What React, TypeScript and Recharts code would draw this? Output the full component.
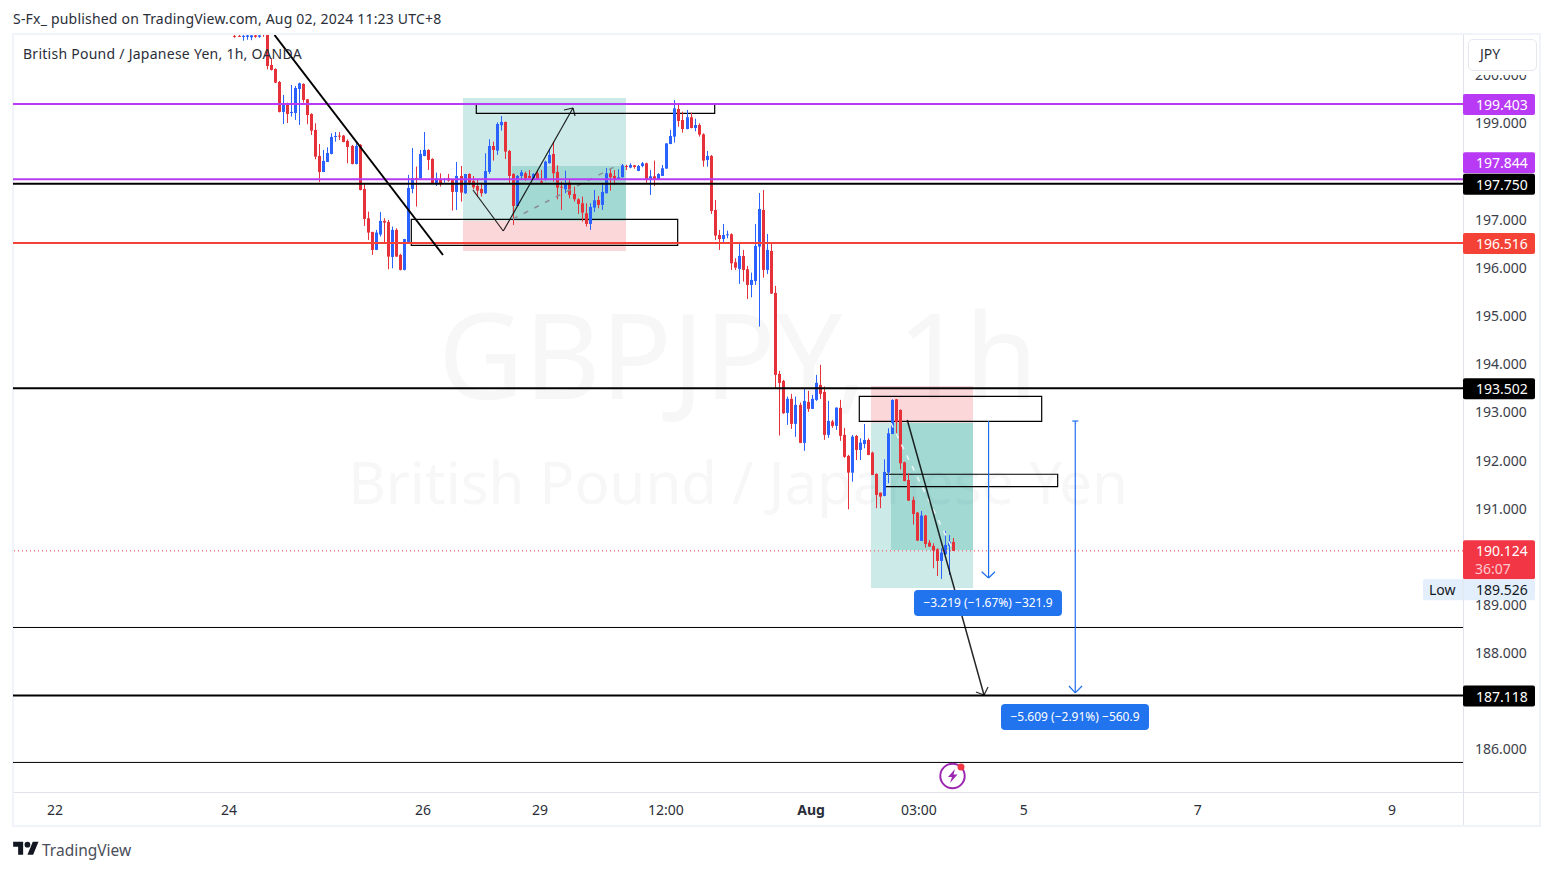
import { Bar, ComposedChart, ReferenceArea, ReferenceLine, XAxis, YAxis } from 'recharts';

const opens = [
  200.82, 200.82, 200.8, 200.8, 200.79, 200.83, 200.8, 200.86, 201.1, 200.215, 200.132, 199.862, 199.24, 199.406, 199.226, 199.219, 199.717, 199.821, 199.503, 199.198,
  198.866, 198.326, 197.994, 198.202, 198.368, 198.728, 198.748, 198.748, 198.638, 198.534, 198.16, 198.555, 197.641, 197.032, 196.749, 196.375, 196.693, 196.977, 196.956, 196.229,
  196.79, 196.271, 195.96, 196.513, 197.641, 197.87, 197.856, 198.326, 198.451, 198.264, 197.738, 197.842, 197.828, 197.863, 197.826, 197.579, 197.911, 197.551, 197.952, 197.807,
  197.703, 197.641, 197.551, 197.994, 198.533, 198.437, 198.963, 199.032, 198.43, 197.952, 197.288, 197.911, 197.966, 197.911, 197.848, 197.966, 197.8, 197.828, 198.174, 198.367,
  197.994, 197.689, 197.634, 197.772, 197.537, 197.426, 197.343, 197.136, 196.914, 197.253, 197.412, 197.309, 197.551, 197.966, 197.911, 197.841, 197.883, 198.118, 198.084, 198.132,
  198.014, 198.118, 198.174, 197.841, 197.904, 197.841, 197.911, 198.063, 198.575, 198.727, 199.302, 199.073, 198.886, 199.129, 198.907, 198.969, 198.776, 198.243, 198.326, 197.204,
  196.685, 196.602, 196.678, 196.699, 196.118, 195.98, 196.249, 195.973, 195.647, 195.73, 196.443, 197.204, 195.959, 196.353, 195.481, 193.8, 193.654, 192.99, 193.281, 192.762,
  193.156, 192.367, 193.218, 193.073, 193.26, 193.571, 193.426, 192.533, 192.81, 192.72, 193.094, 192.533, 192.097, 191.749, 192.51, 192.22, 192.344, 192.427, 192.164, 191.722,
  191.333, 191.265, 191.749, 192.552, 193.272, 193.05, 191.964, 191.597, 191.182, 190.919, 190.331, 190.857, 190.296, 190.227, 190.158, 189.915, 190.054, 190.227, 190.31,
];
const highs = [
  200.86, 200.84, 200.84, 200.85, 200.84, 200.85, 200.85, 200.9, 201.2, 200.354, 200.146, 199.883, 199.593, 199.433, 199.8, 199.779, 199.849, 199.835, 199.51, 199.212,
  199.004, 198.575, 198.451, 198.506, 198.797, 198.824, 198.824, 198.762, 198.672, 198.555, 198.589, 198.575, 197.759, 197.171, 196.749, 196.79, 197.164, 197.032, 196.998, 196.859,
  196.825, 196.292, 196.603, 197.932, 198.492, 198.105, 198.451, 198.824, 198.465, 198.278, 197.98, 197.966, 197.863, 197.953, 197.828, 198.202, 198.119, 197.953, 197.966, 197.911,
  197.828, 197.772, 198.381, 198.672, 198.623, 199.025, 199.156, 199.039, 198.45, 197.966, 197.931, 198.035, 198.001, 198.035, 197.966, 198.021, 198.035, 198.229, 198.464, 198.623,
  198.132, 197.793, 198.021, 197.828, 197.689, 197.447, 197.482, 197.343, 197.343, 197.62, 197.495, 197.758, 198.077, 198.07, 198.035, 198.049, 198.16, 198.146, 198.174, 198.139,
  198.139, 198.201, 198.187, 198.035, 198.229, 197.966, 198.139, 198.589, 198.866, 199.488, 199.419, 199.246, 199.281, 199.225, 199.101, 199.004, 198.796, 198.43, 198.347, 197.412,
  196.789, 196.914, 196.775, 196.72, 196.201, 196.54, 196.374, 196.042, 195.903, 196.914, 197.557, 197.62, 196.706, 196.512, 195.627, 193.862, 193.675, 193.329, 193.385, 193.329,
  193.205, 193.488, 193.447, 193.364, 193.779, 193.987, 193.537, 193.239, 192.845, 193.101, 193.26, 192.679, 192.118, 192.531, 192.531, 192.462, 192.76, 192.462, 192.185, 191.735,
  191.334, 192.026, 192.67, 193.272, 193.279, 193.064, 191.978, 191.735, 191.251, 190.933, 190.953, 190.87, 190.351, 190.282, 190.178, 190.178, 190.538, 190.455, 190.393,
];
const lows = [
  200.78, 200.8, 200.72, 200.74, 200.73, 200.78, 200.78, 200.8, 200.125, 200.1, 199.84, 199.23, 198.99, 199.011, 199.143, 199.074, 198.97, 199.433, 198.984, 198.762,
  198.257, 197.786, 197.99, 198.2, 198.36, 198.624, 198.658, 198.61, 198.174, 198.15, 198.15, 197.61, 196.873, 196.582, 196.271, 196.37, 196.652, 196.513, 195.973, 195.994,
  196.23, 195.95, 195.95, 196.51, 197.551, 197.274, 197.85, 198.32, 198.036, 197.75, 197.703, 197.69, 197.773, 197.793, 197.191, 197.205, 197.378, 197.537, 197.724, 197.634,
  197.482, 197.482, 197.537, 197.952, 198.229, 198.347, 198.852, 198.264, 197.758, 196.893, 197.274, 197.828, 197.814, 197.862, 197.841, 197.828, 197.77, 197.814, 198.17, 197.793,
  197.426, 197.205, 197.551, 197.447, 197.378, 197.122, 196.963, 196.859, 196.79, 197.163, 197.239, 197.205, 197.55, 197.606, 197.724, 197.828, 197.88, 198.035, 198.07, 198.063,
  198.01, 198.091, 197.772, 197.516, 197.703, 197.84, 197.91, 198.06, 198.57, 198.603, 198.935, 198.81, 198.879, 198.9, 198.838, 198.727, 198.104, 198.104, 197.122, 196.582,
  196.374, 196.512, 196.616, 195.959, 195.959, 195.668, 195.717, 195.357, 195.391, 195.647, 194.782, 195.8, 195.876, 195.46, 193.502, 192.52, 192.969, 192.741, 192.658, 192.492,
  192.36, 192.201, 193.011, 193.07, 193.239, 193.281, 192.43, 192.471, 192.679, 192.637, 192.409, 192.056, 190.988, 191.562, 192.012, 192.012, 192.254, 192.11, 191.7, 191.009,
  191.009, 191.26, 191.528, 192.55, 192.566, 191.818, 191.57, 191.16, 190.67, 190.33, 190.33, 190.192, 190.21, 189.763, 189.604, 189.542, 190.04, 189.625, 190.12,
];
const closes = [
  200.8, 200.8, 200.82, 200.83, 200.83, 200.8, 200.83, 200.84, 200.195, 200.112, 199.849, 199.24, 199.406, 199.198, 199.24, 199.738, 199.835, 199.489, 199.177, 198.852,
  198.312, 197.994, 198.222, 198.388, 198.721, 198.741, 198.728, 198.617, 198.513, 198.16, 198.534, 197.62, 197.018, 196.735, 196.375, 196.735, 196.977, 196.942, 196.236, 196.79,
  196.236, 195.96, 196.6, 197.662, 197.863, 197.849, 198.368, 198.451, 198.243, 197.759, 197.863, 197.759, 197.849, 197.814, 197.579, 197.911, 197.565, 197.95, 197.772, 197.675,
  197.606, 197.551, 198.014, 198.533, 198.45, 198.99, 199.032, 198.416, 197.911, 197.288, 197.911, 197.987, 197.862, 197.869, 197.952, 197.848, 197.772, 198.208, 198.347, 197.966,
  197.668, 197.675, 197.758, 197.516, 197.426, 197.329, 197.149, 196.914, 197.267, 197.405, 197.309, 197.578, 197.966, 197.883, 197.828, 197.883, 198.132, 198.104, 198.139, 198.097,
  198.118, 198.174, 197.828, 197.904, 197.828, 197.952, 198.07, 198.587, 198.741, 199.315, 199.052, 198.886, 199.129, 198.907, 198.969, 198.769, 198.229, 198.326, 197.184, 196.672,
  196.602, 196.685, 196.699, 196.097, 196.007, 196.249, 195.959, 195.647, 195.751, 196.457, 197.225, 195.959, 196.374, 195.468, 193.779, 193.613, 192.983, 193.281, 192.762, 193.156,
  192.367, 193.239, 193.073, 193.281, 193.613, 193.385, 192.533, 192.824, 192.72, 193.1, 192.513, 192.077, 191.749, 192.497, 192.22, 192.372, 192.427, 192.116, 191.701, 191.286,
  191.251, 191.763, 192.566, 193.258, 192.794, 191.943, 191.576, 191.168, 190.891, 190.338, 190.857, 190.268, 190.213, 190.13, 189.915, 190.088, 190.248, 190.31, 190.124,
];

const firstBar = 55;
const xDomain = [0.24, 359.51];
const yDomain = [185.116, 200.838];

const priceTicks = [186, 188, 189, 191, 192, 193, 194, 195, 196, 197, 199, 200];
const timeTickBars = [10.65, 53.76, 101.8, 130.8, 162, 198, 224.7, 250.7, 293.8, 341.9];
const timeTickLabels = ['22', '24', '26', '29', '12:00', 'Aug', '03:00', '5', '7', '9'];

const levelPrices = [199.403, 197.844, 197.75, 196.516, 193.502, 187.118];
const levelColors = ['#b83af5', '#b83af5', '#000000', '#f44336', '#000000', '#000000'];
const levelTagShift = [0, -17, 0, 0, 0, 0];
const thinLevels = [188.533, 185.73];
const lastPrice = 190.124;
const lowPrice = 189.526;

// [bar, price, bar, price]
const blackSegments = [
  [65.03, 200.838, 106.78, 196.269],
  [114.21, 197.619, 121.72, 196.767],
  [121.72, 196.767, 138.99, 199.322],
  [136.76, 199.28, 138.99, 199.322],
  [138.99, 199.322, 139.49, 199.156],
  [221.82, 192.842, 240.83, 187.131],
  [238.84, 187.193, 240.83, 187.131],
  [241.82, 187.297, 240.83, 187.131],
];
const blueSegments = [
  [241.96, 192.821, 241.96, 189.561],
  [240.25, 189.691, 241.96, 189.561],
  [243.55, 189.691, 241.96, 189.561],
  [263.44, 192.821, 263.44, 187.173],
  [262.7, 192.821, 264.2, 192.821],
  [261.89, 187.318, 263.44, 187.173],
  [265.11, 187.318, 263.44, 187.173],
];
const longDashed = [124.13, 197.017, 150.64, 198.159];
const shortDashed = [217.78, 192.78, 233.14, 190.142];

// [bar, bar, price, price]
const profitZones = [
  [111.74, 152.12, 196.98, 199.53],
  [123.88, 152.12, 196.98, 198.117],
  [212.83, 238.1, 189.353, 192.786],
  [217.78, 238.1, 190.142, 192.786],
];
const stopZones = [
  [111.74, 152.12, 196.352, 196.98],
  [212.83, 238.1, 192.786, 193.548],
];
const outlineBoxes = [
  [115.03, 174.1, 199.212, 199.411],
  [98.93, 164.93, 196.47, 197.01],
  [209.93, 255.12, 192.815, 193.334],
  [216.3, 259.08, 191.457, 191.715],
];
const measureBoxes = [
  [223.48, 260.15, 188.771, 189.311],
  [245.04, 281.71, 186.404, 186.944],
];
const measureTexts = ['−3.219 (−1.67%) −321.9', '−5.609 (−2.91%) −560.9'];

const candles = opens.map((open, i) => ({
  bar: firstBar + i,
  open,
  high: highs[i],
  low: lows[i],
  close: closes[i],
}));

const FONT = '"Noto Sans", sans-serif';
const UP = '#2962ff';
const DOWN = '#e5323a';
const TAG_LEFT = 1463;

const Candle = (props: any) => {
  const { x, y, width, height, payload } = props;
  const { open, high, low, close } = payload;
  const cx = Math.round(x + width / 2);
  const perUnit = Math.abs(height) / (high - low);
  const top = Math.min(y, y + height);
  const bodyTop = top + (high - Math.max(open, close)) * perUnit;
  const bodyH = Math.max(1, Math.abs(open - close) * perUnit);
  const color = close >= open ? UP : DOWN;
  return (
    <g>
      <rect x={cx} y={top} width={1} height={Math.abs(height)} fill={color} />
      <rect x={cx - 1} y={bodyTop} width={3} height={bodyH} fill={color} />
    </g>
  );
};

const priceTag = (price: number, color: string, shift: number) => (props: any) => {
  const y = props.viewBox.y + shift;
  return (
    <g>
      <rect x={TAG_LEFT} y={y - 10} width={72} height={21} rx={2} fill={color} />
      <text x={1476} y={y + 6} fill="#fff" fontSize={14} fontFamily={FONT}>
        {price.toFixed(3)}
      </text>
    </g>
  );
};

const lastTag = (props: any) => {
  const y = props.viewBox.y;
  return (
    <g>
      <rect x={TAG_LEFT} y={y - 10.5} width={72} height={39} rx={2} fill="#f23645" />
      <text x={1476} y={y + 5} fill="#fff" fontSize={14} fontFamily={FONT}>
        {lastPrice.toFixed(3)}
      </text>
      <text x={1475} y={y + 23} fill="#ffc9ce" fontSize={14} fontFamily={FONT}>
        36:07
      </text>
    </g>
  );
};

const lowTag = (props: any) => {
  // pushed down below the last-price tag, as the platform does
  const y = props.viewBox.y + 10;
  return (
    <g>
      <rect x={1423} y={y - 10.5} width={112} height={21} rx={2} fill="#e3effd" />
      <line x1={TAG_LEFT} x2={TAG_LEFT} y1={y - 10.5} y2={y + 10.5} stroke="#e0e3eb" />
      <text x={1429} y={y + 5} fill="#131722" fontSize={14} fontFamily={FONT}>
        Low
      </text>
      <text x={1476} y={y + 5} fill="#131722" fontSize={14} fontFamily={FONT}>
        {lowPrice.toFixed(3)}
      </text>
    </g>
  );
};

const TimeTick = (props: any) => {
  const { x, payload } = props;
  const label = timeTickLabels[timeTickBars.indexOf(payload.value)];
  return (
    <text
      x={x}
      y={815}
      textAnchor="middle"
      fill="#2a2e39"
      fontSize={14}
      fontFamily={FONT}
      fontWeight={label === 'Aug' ? 700 : 400}
    >
      {label}
    </text>
  );
};

export default function App() {
  return (
    <div style={{ position: 'absolute', left: 0, top: 0, width: 1553, height: 871, background: '#fff', overflow: 'hidden', fontFamily: FONT }}>
      <div style={{ position: 'absolute', left: 13, top: 9, fontSize: 14, lineHeight: '20px', letterSpacing: 0.2, color: '#2a2e39', whiteSpace: 'nowrap' }}>
        S-Fx_ published on TradingView.com, Aug 02, 2024 11:23 UTC+8
      </div>

      {/* frame */}
      <div style={{ position: 'absolute', left: 12, top: 33, width: 1525, height: 790, border: '2px solid #f0f3fa' }} />
      <div style={{ position: 'absolute', left: 14, top: 792, width: 1525, height: 1, background: '#e0e3eb' }} />
      <div style={{ position: 'absolute', left: 1463, top: 35, width: 1, height: 790, background: '#e0e3eb' }} />

      {/* watermark */}
      <div style={{ position: 'absolute', left: 13, width: 1450, top: 274, textAlign: 'center', fontSize: 118, lineHeight: '160px', color: '#f7f7f7', whiteSpace: 'nowrap' }}>
        GBPJPY, 1h
      </div>
      <div style={{ position: 'absolute', left: 13, width: 1450, top: 440, textAlign: 'center', fontSize: 58, lineHeight: '84px', color: '#f7f7f7', whiteSpace: 'nowrap' }}>
        British Pound / Japanese Yen
      </div>

      <div style={{ position: 'absolute', left: 0, top: 0 }}>
        <ComposedChart width={1553} height={871} data={candles} margin={{ top: 35, right: 13, bottom: 44, left: 13 }}>
          <XAxis
            dataKey="bar"
            type="number"
            domain={xDomain}
            allowDataOverflow
            ticks={timeTickBars}
            interval={0}
            height={35}
            axisLine={false}
            tickLine={false}
            tick={TimeTick}
          />
          <YAxis
            orientation="right"
            type="number"
            domain={yDomain}
            allowDataOverflow
            ticks={priceTicks}
            interval={0}
            width={77}
            axisLine={false}
            tickLine={false}
            tickSize={0}
            tickMargin={12}
            tickFormatter={(v: number) => v.toFixed(3)}
            tick={{ fill: '#3a3e4a', fontSize: 14, fontFamily: FONT, textAnchor: 'start' }}
          />

          {profitZones.map((z, i) => (
            <ReferenceArea key={`profit-${i}`} x1={z[0]} x2={z[1]} y1={z[2]} y2={z[3]} fill="rgba(0,150,136,0.2)" fillOpacity={1} stroke="none" />
          ))}
          {stopZones.map((z, i) => (
            <ReferenceArea key={`stop-${i}`} x1={z[0]} x2={z[1]} y1={z[2]} y2={z[3]} fill="rgba(242,54,69,0.2)" fillOpacity={1} stroke="none" />
          ))}
          {outlineBoxes.map((z, i) => (
            <ReferenceArea key={`box-${i}`} x1={z[0]} x2={z[1]} y1={z[2]} y2={z[3]} fill="none" stroke="#000" strokeWidth={1.2} />
          ))}

          <Bar dataKey={(d: any) => [d.low, d.high]} barSize={3} shape={Candle} isAnimationActive={false} />

          <ReferenceLine
            segment={[{ x: longDashed[0], y: longDashed[1] }, { x: longDashed[2], y: longDashed[3] }]}
            stroke="#8a8f99"
            strokeWidth={1.5}
            strokeDasharray="5 7"
          />
          <ReferenceLine
            segment={[{ x: shortDashed[0], y: shortDashed[1] }, { x: shortDashed[2], y: shortDashed[3] }]}
            stroke="#eef7f6"
            strokeWidth={1.5}
            strokeDasharray="5 7"
          />

          {thinLevels.map((p) => (
            <ReferenceLine key={p} y={p} stroke="#000" strokeWidth={1} />
          ))}
          {levelPrices.map((p, i) => (
            <ReferenceLine key={p} y={p} stroke={levelColors[i]} strokeWidth={2} label={priceTag(p, levelColors[i], levelTagShift[i])} />
          ))}
          <ReferenceLine y={lastPrice} stroke="#f23645" strokeWidth={1} strokeDasharray="1 3" label={lastTag} />
          <ReferenceLine y={lowPrice} stroke="none" label={lowTag} />

          {blackSegments.map((s, i) => (
            <ReferenceLine key={`seg-${i}`} segment={[{ x: s[0], y: s[1] }, { x: s[2], y: s[3] }]} stroke="#000" strokeWidth={i === 0 ? 2 : i === 5 ? 1.5 : 1.2} strokeOpacity={i === 0 ? 1 : 0.85} ifOverflow="hidden" />
          ))}
          {blueSegments.map((s, i) => (
            <ReferenceLine key={`blue-${i}`} segment={[{ x: s[0], y: s[1] }, { x: s[2], y: s[3] }]} stroke="#1e6ff0" strokeWidth={1.2} />
          ))}

          {measureBoxes.map((z, i) => (
            <ReferenceArea
              key={`measure-${i}`}
              x1={z[0]}
              x2={z[1]}
              y1={z[2]}
              y2={z[3]}
              fill="#2173ee"
              fillOpacity={1}
              stroke="none"
              radius={4}
              zIndex={1500}
              label={{ value: measureTexts[i], fill: '#fff', fontSize: 12, fontFamily: FONT, position: 'center' }}
            />
          ))}
        </ComposedChart>
      </div>

      {/* symbol title and currency button, with the white pad that cuts the top tick */}
      <div style={{ position: 'absolute', left: 23, top: 44, fontSize: 14, lineHeight: '20px', letterSpacing: 0.26, color: '#2a2e39', whiteSpace: 'nowrap' }}>
        British Pound / Japanese Yen, 1h, OANDA
      </div>
      <div style={{ position: 'absolute', left: 1464, top: 35, width: 75, height: 40, background: '#fff' }} />
      <div style={{ position: 'absolute', left: 1468, top: 39, width: 67, height: 30, background: '#fff', border: '1px solid #e6e8ef', borderRadius: 5, fontSize: 14, lineHeight: '28px', color: '#2a2e39', textIndent: 11 }}>
        JPY
      </div>

      {/* alert icon */}
      <svg style={{ position: 'absolute', left: 938, top: 761 }} width={30} height={30} viewBox="0 0 30 30">
        <circle cx={14.5} cy={15} r={12.2} fill="#fff" stroke="#9c27b0" strokeWidth={2} />
        <path d="M17 8 L10 16 L14 16 L12 22 L19.5 13.5 L15.5 13.5 Z" fill="#9c27b0" />
        <circle cx={23} cy={6} r={3.5} fill="#f23645" />
      </svg>

      {/* footer logo */}
      <svg style={{ position: 'absolute', left: 13, top: 839 }} width={26} height={20} viewBox="0 0 36 28">
        <path d="M14 22H7V11H0V4h14v18zM28 22h-8l7.5-18h8L28 22z" fill="#131722" />
        <circle cx={20} cy={8} r={4} fill="#131722" />
      </svg>
      <div style={{ position: 'absolute', left: 42, top: 839, fontSize: 15.5, lineHeight: '22px', color: '#4a4e59', whiteSpace: 'nowrap' }}>
        TradingView
      </div>
    </div>
  );
}
